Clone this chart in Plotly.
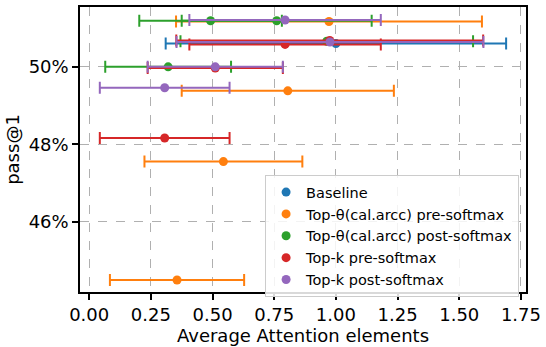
import plotly.graph_objects as go

# pass@1 (%) against the average fraction of attention elements kept
baseline_x = [1.00]
baseline_y = [50.60]
baseline_err = [0.69]

theta_pre_x = [0.972, 0.805, 0.544, 0.356]
theta_pre_y = [51.17, 49.38, 47.55, 44.49]
theta_pre_err = [0.62, 0.43, 0.32, 0.272]

theta_post_x = [0.492, 0.760, 0.963, 0.320]
theta_post_y = [51.19, 51.19, 50.66, 50.00]
theta_post_err = [0.289, 0.385, 0.593, 0.255]

topk_pre_x = [0.794, 0.975, 0.511, 0.306]
topk_pre_y = [50.58, 50.68, 49.97, 48.16]
topk_pre_err = [0.388, 0.622, 0.274, 0.263]

topk_post_x = [0.794, 0.976, 0.511, 0.306]
topk_post_y = [51.21, 50.64, 50.00, 49.46]
topk_post_err = [0.388, 0.622, 0.274, 0.263]

series = [
    ("Baseline", baseline_x, baseline_y, baseline_err, "#1f77b4"),
    ("Top-θ(cal.arcc) pre-softmax", theta_pre_x, theta_pre_y, theta_pre_err, "#ff7f0e"),
    ("Top-θ(cal.arcc) post-softmax", theta_post_x, theta_post_y, theta_post_err, "#2ca02c"),
    ("Top-k pre-softmax", topk_pre_x, topk_pre_y, topk_pre_err, "#d62728"),
    ("Top-k post-softmax", topk_post_x, topk_post_y, topk_post_err, "#9467bd"),
]

y_ticks = [46, 48, 50]
x_ticks = [0.0, 0.25, 0.5, 0.75, 1.0, 1.25, 1.5, 1.75]

fig = go.Figure()
for name, xs, ys, errs, color in series:
    fig.add_trace(go.Scatter(
        x=xs, y=ys, mode="markers", name=name,
        marker=dict(color=color, size=9, line=dict(width=0)),
        error_x=dict(type="data", array=errs, visible=True,
                     color=color, thickness=2, width=6),
    ))

font = "DejaVu Sans"
axis_common = dict(
    ticks="outside", ticklen=6, tickwidth=1.5, tickcolor="black",
    tickfont=dict(family=font, size=18, color="black"),
    showline=True, linecolor="black", linewidth=1.5, mirror=True,
    showgrid=True, gridcolor="#b0b0b0", griddash="dash", gridwidth=1,
    zeroline=False,
)
fig.update_layout(
    width=546, height=347,
    margin=dict(l=80, r=15, t=5, b=55),
    paper_bgcolor="white", plot_bgcolor="white",
    font=dict(family=font, size=18, color="black"),
    showlegend=True,
    legend=dict(
        x=0.415, y=0.41, xanchor="left", yanchor="top",
        bgcolor="rgba(255,255,255,0.85)", bordercolor="#cccccc", borderwidth=1,
        font=dict(family=font, size=14.5, color="black"),
        itemwidth=30, tracegroupgap=0,
    ),
    xaxis=dict(
        range=[-0.0373, 1.7706],
        tickvals=x_ticks, ticktext=[f"{v:.2f}" for v in x_ticks],
        title=dict(text="Average Attention elements",
                   font=dict(family=font, size=18), standoff=2),
        **axis_common,
    ),
    yaxis=dict(
        range=[44.18, 51.546],
        tickvals=y_ticks, ticktext=[f"{v}%" for v in y_ticks],
        title=dict(text="pass@1", font=dict(family=font, size=18), standoff=4),
        **axis_common,
    ),
)

fig.write_html("out.html")
